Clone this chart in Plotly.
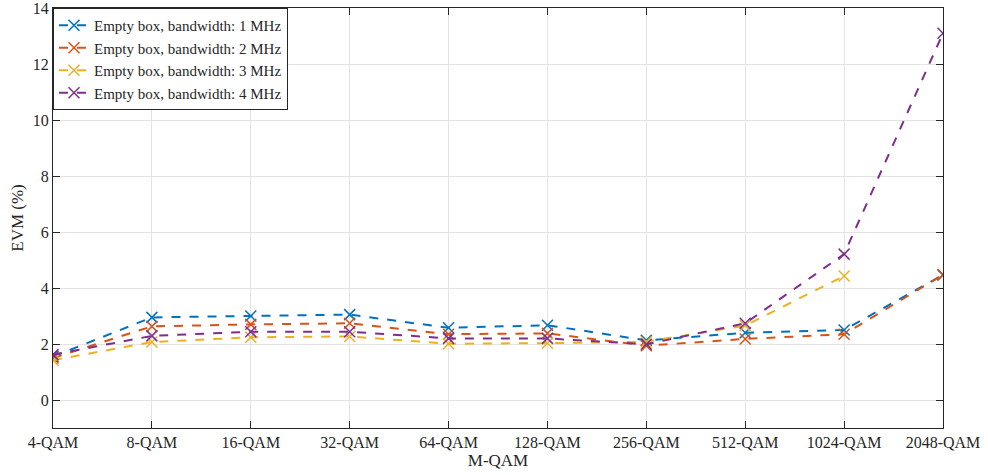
import plotly.graph_objects as go

categories = ["4-QAM", "8-QAM", "16-QAM", "32-QAM", "64-QAM", "128-QAM",
              "256-QAM", "512-QAM", "1024-QAM", "2048-QAM"]
evm_1mhz = [1.55, 2.95, 3.00, 3.05, 2.58, 2.67, 2.13, 2.40, 2.50, 4.47]
evm_2mhz = [1.50, 2.63, 2.70, 2.74, 2.35, 2.38, 1.94, 2.18, 2.35, 4.47]
evm_3mhz = [1.42, 2.07, 2.24, 2.27, 2.01, 2.03, 2.08, 2.66, 4.43, None]
evm_4mhz = [1.62, 2.29, 2.44, 2.44, 2.20, 2.20, 1.99, 2.74, 5.21, 13.10]
names = ["Empty box, bandwidth: 1 MHz", "Empty box, bandwidth: 2 MHz",
         "Empty box, bandwidth: 3 MHz", "Empty box, bandwidth: 4 MHz"]
colors = ["#0072BD", "#D95319", "#EDB120", "#7E2F8E"]
y_ticks = [0, 2, 4, 6, 8, 10, 12, 14]

FONT = "Liberation Serif"
fig = go.Figure()
for name, vals, col in zip(names, [evm_1mhz, evm_2mhz, evm_3mhz, evm_4mhz], colors):
    fig.add_trace(go.Scatter(
        x=list(range(len(categories))), y=vals, name=name, mode="lines+markers",
        line=dict(color=col, width=2, dash="dash"),
        marker=dict(symbol="x-thin", size=11, line=dict(color=col, width=1.5)),
    ))

axis_common = dict(showline=True, linecolor="#262626", linewidth=1, mirror="ticks",
                   ticks="inside", ticklen=7, tickcolor="#262626",
                   showgrid=True, gridcolor="#E3E3E3", gridwidth=1, zeroline=False,
                   automargin=False, ticklabeloverflow="allow",
                   tickfont=dict(family=FONT, size=16, color="#262626"))
fig.update_xaxes(range=[0, len(categories) - 1], tickmode="array",
                 tickvals=list(range(len(categories))), ticktext=categories,
                 title=dict(text="M-QAM", font=dict(family=FONT, size=17, color="#262626"), standoff=2),
                 **axis_common)
fig.update_yaxes(range=[-1, 14.0005], tickmode="array", tickvals=y_ticks,
                 title=dict(text="EVM (%)", font=dict(family=FONT, size=17, color="#262626"), standoff=4),
                 **axis_common)
fig.update_layout(
    width=988, height=475, plot_bgcolor="white", paper_bgcolor="white",
    margin=dict(l=53, r=45, t=8, b=47),
    legend=dict(x=0, y=1, xanchor="left", yanchor="top", bgcolor="white",
                bordercolor="#262626", borderwidth=1, tracegroupgap=0,
                font=dict(family=FONT, size=15, color="#262626"),
                itemwidth=30),
    showlegend=True,
)
fig.write_html("out.html", config={"displayModeBar": False},
               post_script="document.body.style.margin='0';")
